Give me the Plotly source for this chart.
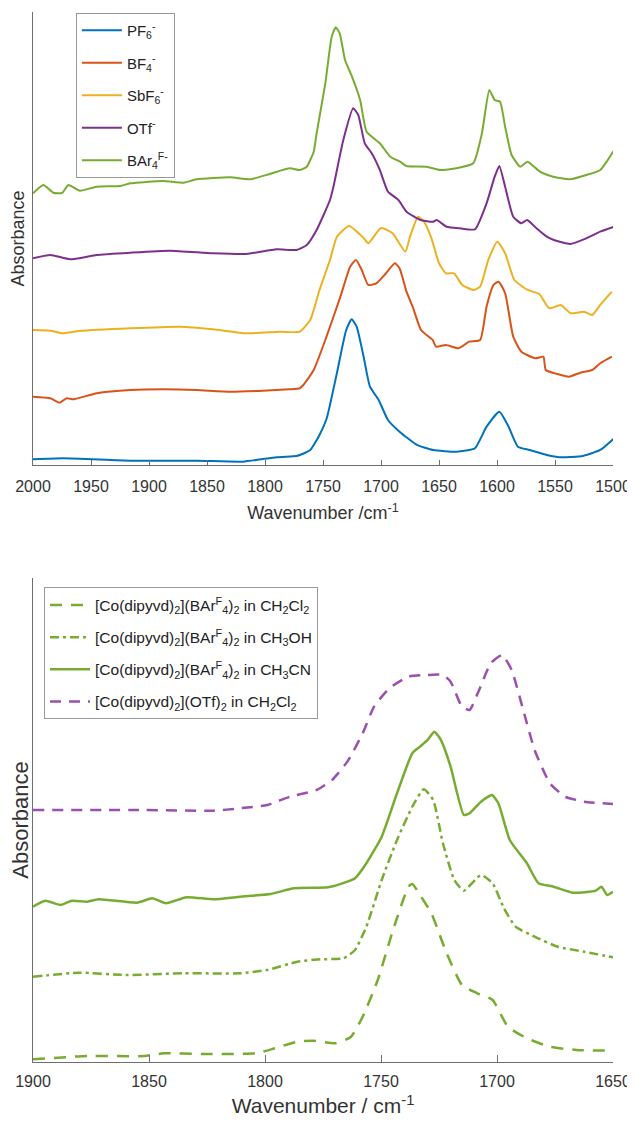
import plotly.graph_objects as go

# ---------------- Top panel: counter-anion series (wavenumber / cm-1, absorbance a.u., offsets included)
pf6_wn = [2000, 1974, 1916, 1859, 1819, 1790, 1773, 1770, 1761, 1758, 1753, 1747, 1744, 1738, 1730, 1725.3, 1721,
          1715, 1709.5, 1702, 1694, 1684, 1669, 1655, 1635, 1619, 1609, 1598, 1590, 1582, 1572, 1557, 1546, 1526,
          1511, 1499]
pf6_abs = [0.057, 0.067, 0.043, 0.043, 0.033, 0.077, 0.09, 0.10, 0.15, 0.20, 0.30, 0.46, 0.60, 0.92, 1.35, 1.457,
           1.383, 1.083, 0.783, 0.65, 0.45, 0.333, 0.20, 0.15, 0.133, 0.167, 0.383, 0.533, 0.383, 0.183, 0.15, 0.10,
           0.077, 0.09, 0.15, 0.267]

bf4_wn = [2000, 1985, 1977, 1971, 1965, 1945, 1916, 1888, 1859, 1830, 1802, 1779, 1770, 1767, 1758, 1747, 1735,
          1726.6, 1721.5, 1716.6, 1711, 1704, 1697, 1688, 1684, 1678, 1672.7, 1665.5, 1655.5, 1652.6, 1644, 1633,
          1624, 1614.5, 1609, 1603, 1598.6, 1593, 1586, 1579, 1567, 1560, 1558, 1548, 1538, 1528, 1518, 1511, 1501]
bf4_abs = [0.683, 0.667, 0.623, 0.667, 0.657, 0.717, 0.75, 0.757, 0.75, 0.733, 0.743, 0.757, 0.767, 0.80, 0.95,
           1.283, 1.683, 1.983, 2.05, 1.95, 1.80, 1.817, 1.90, 2.017, 1.967, 1.733, 1.583, 1.35, 1.25, 1.183, 1.20,
           1.167, 1.233, 1.25, 1.583, 1.80, 1.833, 1.717, 1.283, 1.133, 1.067, 1.083, 0.95, 0.91, 0.883, 0.923,
           0.95, 1.017, 1.083]

sbf6_wn = [2000, 1985, 1975, 1960, 1916, 1873, 1845, 1816, 1787, 1770, 1761, 1758, 1753, 1747, 1744, 1738, 1727.5,
           1715, 1711, 1700, 1690, 1679, 1675, 1668, 1663, 1656.5, 1650, 1644, 1637, 1630, 1620, 1614.5, 1607.5,
           1599.7, 1593, 1585, 1573.5, 1563.6, 1555, 1545, 1536.6, 1525, 1518, 1511, 1501]
sbf6_abs = [1.35, 1.343, 1.317, 1.34, 1.367, 1.383, 1.357, 1.317, 1.333, 1.333, 1.45, 1.55, 1.75, 1.95, 2.05, 2.283,
            2.39, 2.27, 2.217, 2.37, 2.317, 2.133, 2.283, 2.483, 2.433, 2.267, 2.017, 1.917, 1.917, 1.80, 1.75,
            1.783, 2.05, 2.233, 2.117, 1.85, 1.75, 1.71, 1.567, 1.60, 1.517, 1.533, 1.50, 1.60, 1.733]

otf_wn = [2000, 1985, 1968, 1945, 1916, 1882, 1845, 1816, 1790, 1773, 1764, 1755.5, 1744, 1741, 1732.5, 1724,
          1719.6, 1714, 1708, 1701, 1694, 1685, 1678, 1666, 1655, 1652, 1643.4, 1632, 1619, 1609, 1602, 1598, 1593,
          1586, 1579, 1574, 1566, 1557, 1551, 1537, 1523, 1511, 1499]
otf_abs = [2.067, 2.10, 2.057, 2.10, 2.123, 2.143, 2.117, 2.11, 2.157, 2.15, 2.20, 2.35, 2.65, 2.783, 3.25, 3.567,
           3.50, 3.217, 3.117, 2.95, 2.733, 2.65, 2.533, 2.45, 2.433, 2.45, 2.383, 2.367, 2.357, 2.617, 2.883, 2.99,
           2.783, 2.483, 2.417, 2.45, 2.367, 2.283, 2.25, 2.21, 2.267, 2.333, 2.383]

barf_wn = [2000, 1991, 1982.5, 1975, 1969.5, 1959.5, 1945, 1925, 1916, 1888, 1870, 1859, 1830, 1813, 1796, 1778.5,
           1770, 1764, 1761, 1758, 1755.5, 1748, 1742.5, 1739, 1735.6, 1731, 1725, 1718, 1712.4, 1701, 1692, 1683.6,
           1678, 1660.6, 1649, 1635, 1620.5, 1613, 1606.6, 1602, 1597.4, 1593, 1587.4, 1580, 1573.6, 1563, 1551.5,
           1537, 1523, 1511, 1499]
barf_abs = [2.717, 2.80, 2.723, 2.72, 2.80, 2.743, 2.783, 2.79, 2.817, 2.84, 2.823, 2.857, 2.877, 2.857, 2.91, 2.967,
            2.95, 2.983, 3.05, 3.133, 3.317, 3.817, 4.283, 4.377, 4.317, 4.05, 3.883, 3.65, 3.333, 3.217, 3.083,
            3.033, 2.99, 2.983, 2.95, 2.967, 3.017, 3.317, 3.75, 3.65, 3.633, 3.383, 3.10, 2.983, 3.033, 2.933,
            2.883, 2.857, 2.90, 2.95, 3.15]

top_names = ["PF<sub>6</sub><sup>-</sup>", "BF<sub>4</sub><sup>-</sup>", "SbF<sub>6</sub><sup>-</sup>",
             "OTf<sup>-</sup>", "BAr<sub>4</sub><sup>F-</sup>"]
top_colors = ["#0072BD", "#D95319", "#EDB120", "#7E2F8E", "#77AC30"]

# ---------------- Bottom panel: solvent series
dcm_wn = [1900, 1876.6, 1851.9, 1843.6, 1827.2, 1804.1, 1795.8, 1786, 1779.4, 1769.5, 1762.9, 1757.9, 1751.4,
          1744.8, 1738.2, 1736.5, 1733.2, 1728.3, 1721.7, 1715.1, 1708.5, 1701.9, 1695.3, 1687.1, 1677.2, 1665.7,
          1650]
dcm_abs = [0.027, 0.06, 0.06, 0.087, 0.08, 0.087, 0.137, 0.203, 0.213, 0.187, 0.253, 0.453, 0.82, 1.32, 1.753,
           1.78, 1.67, 1.487, 1.087, 0.77, 0.687, 0.62, 0.353, 0.237, 0.153, 0.12, 0.113]

meoh_wn = [1900, 1879.9, 1860.1, 1835.4, 1810.7, 1799.1, 1786, 1776.1, 1766.2, 1761.2, 1756.3, 1749.7, 1743.1,
           1736.5, 1731.6, 1727.5, 1723.3, 1718.4, 1714.3, 1706.9, 1701.9, 1697, 1692, 1683.8, 1673.9, 1662.4, 1650]
meoh_abs = [0.853, 0.893, 0.87, 0.887, 0.887, 0.92, 1.003, 1.027, 1.037, 1.12, 1.353, 1.82, 2.22, 2.553, 2.727,
            2.62, 2.187, 1.82, 1.713, 1.87, 1.787, 1.537, 1.353, 1.253, 1.153, 1.103, 1.047]

mecn_wn = [1900, 1894.7, 1888.1, 1883.2, 1876.6, 1871.7, 1855.2, 1848.6, 1842.8, 1833.8, 1822.2, 1810.7, 1797.5,
           1787.6, 1772.8, 1764.5, 1761.2, 1756.3, 1749.7, 1743.1, 1736.5, 1733.2, 1729.9, 1727, 1724.2, 1720,
           1714.3, 1711.8, 1706.9, 1702.2, 1699.4, 1694.5, 1687.1, 1682.1, 1675.6, 1667.3, 1657.4, 1655, 1652.5,
           1650]
mecn_abs = [1.553, 1.613, 1.57, 1.613, 1.603, 1.627, 1.593, 1.637, 1.587, 1.647, 1.627, 1.653, 1.68, 1.737, 1.747,
            1.803, 1.837, 1.987, 2.253, 2.687, 3.087, 3.153, 3.22, 3.303, 3.22, 2.953, 2.47, 2.487, 2.603, 2.67,
            2.587, 2.22, 1.987, 1.787, 1.753, 1.693, 1.713, 1.753, 1.67, 1.703]

otf_dcm_wn = [1900, 1851.9, 1822.2, 1810.7, 1799.1, 1789.3, 1777.7, 1771.1, 1764.5, 1757.9, 1753, 1746.4, 1738.2,
              1730, 1723.3, 1720, 1715.1, 1711.8, 1707.7, 1702.7, 1697.8, 1693.7, 1688.7, 1683.8, 1677.2, 1670.6,
              1662.4, 1650]
otf_dcm_abs = [2.52, 2.52, 2.513, 2.537, 2.57, 2.653, 2.72, 2.82, 3.003, 3.287, 3.553, 3.737, 3.853, 3.87, 3.87,
               3.803, 3.553, 3.52, 3.72, 3.987, 4.07, 3.92, 3.52, 3.12, 2.787, 2.653, 2.603, 2.58]

bot_names = ["[Co(dipyvd)<sub>2</sub>](BAr<sup>F</sup><sub>4</sub>)<sub>2</sub> in CH<sub>2</sub>Cl<sub>2</sub>",
             "[Co(dipyvd)<sub>2</sub>](BAr<sup>F</sup><sub>4</sub>)<sub>2</sub> in CH<sub>3</sub>OH",
             "[Co(dipyvd)<sub>2</sub>](BAr<sup>F</sup><sub>4</sub>)<sub>2</sub> in CH<sub>3</sub>CN",
             "[Co(dipyvd)<sub>2</sub>](OTf)<sub>2</sub> in CH<sub>2</sub>Cl<sub>2</sub>"]
bot_colors = ["#77AC30", "#77AC30", "#77AC30", "#9B4FAE"]
bot_dash = ["12px,9px", "9px,4px,3px,4px", "solid", "11px,8px"]

top_ticks = [2000, 1950, 1900, 1850, 1800, 1750, 1700, 1650, 1600, 1550, 1500]
bot_ticks = [1900, 1850, 1800, 1750, 1700, 1650]

FONT = "Liberation Sans, Arial, Helvetica, sans-serif"

fig = go.Figure()

top_data = [(pf6_wn, pf6_abs), (bf4_wn, bf4_abs), (sbf6_wn, sbf6_abs), (otf_wn, otf_abs), (barf_wn, barf_abs)]
for i, (wx, ay) in enumerate(top_data):
    fig.add_trace(go.Scatter(x=wx, y=ay, mode="lines", name=top_names[i], xaxis="x2", yaxis="y2",
                             legend="legend", legendgroup="t%d" % i,
                             line=dict(color=top_colors[i], width=2, shape="spline", smoothing=0.5)))

bot_data = [(dcm_wn, dcm_abs), (meoh_wn, meoh_abs), (mecn_wn, mecn_abs), (otf_dcm_wn, otf_dcm_abs)]
for i, (wx, ay) in enumerate(bot_data):
    fig.add_trace(go.Scatter(x=wx, y=ay, mode="lines", name=bot_names[i], xaxis="x", yaxis="y",
                             legend="legend2", legendgroup="b%d" % i,
                             line=dict(color=bot_colors[i], width=2.5, dash=bot_dash[i],
                                       shape="spline", smoothing=0.5)))

axis_line = "#6e6e6e"
# the page body adds an 8 px offset, so the figure is 8 px smaller and margins shifted accordingly
fig.update_layout(
    width=627, height=1116,
    margin=dict(l=25, r=22, t=4, b=62, autoexpand=False),
    paper_bgcolor="white", plot_bgcolor="white",
    font=dict(family=FONT, color="#333333"),
    showlegend=True,
    xaxis=dict(domain=[0, 1], anchor="y", range=[1900, 1650], tickvals=bot_ticks, automargin=False,
               ticks="inside", ticklen=7, tickcolor=axis_line, showline=True, linecolor=axis_line,
               linewidth=1, showgrid=False, zeroline=False, tickfont=dict(size=16, color="#333"),
               ticklabelstandoff=5,
               title=dict(text="Wavenumber / cm<sup>-1</sup>", font=dict(size=21, color="#333"), standoff=9)),
    yaxis=dict(domain=[0, 0.461], anchor="x", range=[0, 4.84], showline=True, linecolor=axis_line,
               linewidth=1, showgrid=False, zeroline=False, ticks="", showticklabels=False, automargin=False,
               title=dict(text="Absorbance", font=dict(size=22, color="#333"), standoff=5)),
    xaxis2=dict(domain=[0, 1], anchor="y2", range=[2000, 1500], tickvals=top_ticks, automargin=False,
                ticks="inside", ticklen=5, tickcolor=axis_line, showline=True, linecolor=axis_line,
                linewidth=1, showgrid=False, zeroline=False, tickfont=dict(size=16, color="#333"),
                ticklabelstandoff=7,
                title=dict(text="Wavenumber /cm<sup>-1</sup>", font=dict(size=18, color="#333"), standoff=12)),
    yaxis2=dict(domain=[0.5686, 1], anchor="x2", range=[0, 4.53], showline=True, linecolor=axis_line,
                linewidth=1, showgrid=False, zeroline=False, ticks="", showticklabels=False, automargin=False,
                title=dict(text="Absorbance", font=dict(size=18, color="#333"), standoff=2)),
    legend=dict(x=0.074, y=0.999, xanchor="left", yanchor="top", bgcolor="white",
                bordercolor="#999999", borderwidth=1, font=dict(size=15, color="#222"),
                itemwidth=40, traceorder="grouped", tracegroupgap=10),
    legend2=dict(x=0.019, y=0.452, xanchor="left", yanchor="top", bgcolor="white",
                 bordercolor="#999999", borderwidth=1, font=dict(size=15.5, color="#222"),
                 itemwidth=40, traceorder="grouped", tracegroupgap=9),
)

fig.write_html("out.html")
